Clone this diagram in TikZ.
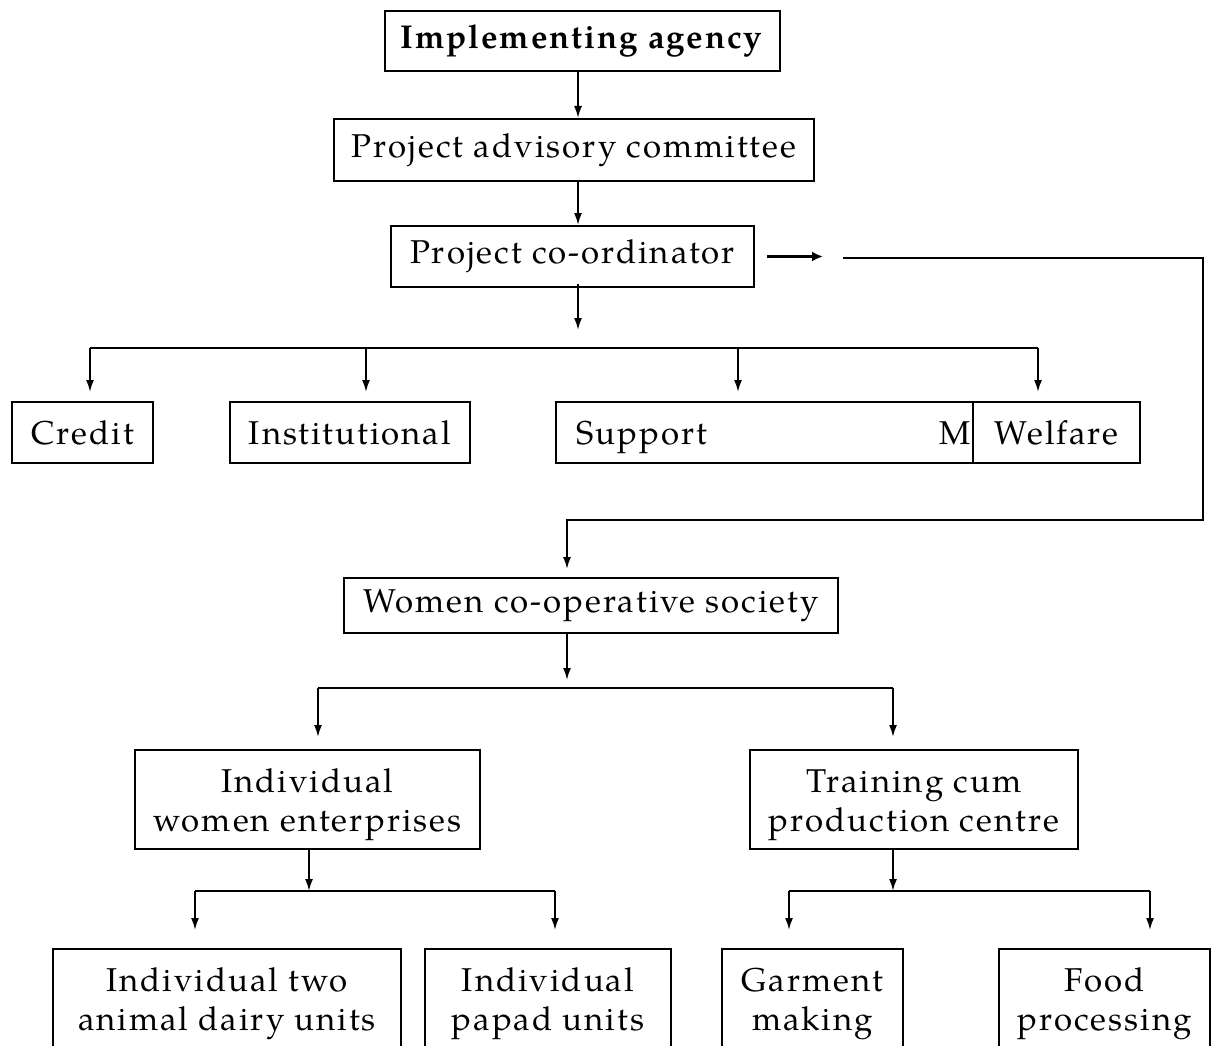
\documentclass[tikz,border=0pt]{standalone}
\usepackage{fontspec}
\setmainfont{texgyrepagella}[Extension=.otf, UprightFont=*-regular, BoldFont=*-bold, LetterSpace=6]
\usetikzlibrary{arrows.meta}

\tikzset{
  unitbox/.style={draw, line width=2pt, fill=white, inner sep=0pt, align=center,
    font=\fontsize{33}{39}\selectfont},
  boxtext/.style={inner sep=0pt, font=\fontsize{33}{39}\selectfont},
  link/.style={line width=1.8pt},
  arr/.style={link, -{Latex[length=12pt,width=8pt]}},
  fatarr/.style={line width=3pt, -{Latex[length=11pt,width=10pt]}},
}

\begin{document}
\begin{tikzpicture}[x=1pt,y=-1pt]
\useasboundingbox (0,0) rectangle (1213,1046);
% top of the chart
\node[unitbox, minimum width=395pt, minimum height=60pt] (agency) at (582.5,41) {\textbf{Implementing agency}};
\node[unitbox, minimum width=480pt, minimum height=62pt] (advisory) at (574,150) {Project advisory committee};
\node[unitbox, minimum width=363pt, minimum height=61pt] (coord) at (572.5,256.5) {Project co-ordinator};
\coordinate (spine) at (578,0);
\draw[arr] (agency.south -| spine) -- (advisory.north -| spine);
\draw[arr] (advisory.south -| spine) -- (coord.north -| spine);
\coordinate (coordend) at (578,330);
\draw[arr] ([yshift=4pt]coord.south -| spine) -- (coordend);

% first row of units
\node[unitbox, minimum width=141pt, minimum height=61pt] (credit) at (82.5,432.5) {Credit};
\node[unitbox, minimum width=240pt, minimum height=61pt] (instit) at (350,432.5) {Institutional};
\node[unitbox, minimum width=572pt, minimum height=61pt] (support) at (842,432.5) {};
\node[boxtext, anchor=base west] (supporttxt) at (576,444) {Support};
\node[boxtext, anchor=base east] (mtxt) at (971,444) {M};
\node[unitbox, minimum width=167pt, minimum height=61pt] (welfare) at (1056.5,432.5) {Welfare};
\coordinate (barL) at (90,348);
\coordinate (barR) at (1038,348);
\draw[link] (barL) -- (barR);
\draw[arr] (barL) -- ([yshift=9pt]credit.north -| barL);
\draw[arr] (366,348) -- ([yshift=9pt]instit.north -| 366,0);
\draw[arr] (738,348) -- ([yshift=9pt]support.north -| 738,0);
\draw[arr] (barR) -- ([yshift=9pt]welfare.north -| barR);

% loop round to the society
\draw[fatarr] ([xshift=12pt]coord.east) -- ++(56,0);
\coordinate (loopstart) at (843,258);
\coordinate (loopturn) at (1203,520);
\node[unitbox, minimum width=494pt, minimum height=55pt] (society) at (591,605.5) {Women co-operative society};
\draw[arr] (loopstart) -| (loopturn) -| ([yshift=8pt]society.north -| 567,0);

% second level
\node[unitbox, minimum width=345pt, minimum height=99pt, text height=73pt, text depth=10pt] (iwe) at (307.5,799.5) {Individual\\women enterprises};
\node[unitbox, minimum width=328pt, minimum height=99pt, text height=73pt, text depth=10pt] (training) at (914,799.5) {Training cum\\production centre};
\coordinate (socL) at (318,688);
\coordinate (socR) at (893,688);
\draw[arr] (society.south -| 567,0) -- (567,680);
\draw[link] (socL) -- (socR);
\draw[arr] (socL) -- ([yshift=12pt]iwe.north -| socL);
\draw[arr] (socR) -- ([yshift=12pt]training.north -| socR);

% bottom units
\tikzset{lowbox/.style={unitbox, minimum height=110pt, text height=62pt, text depth=10pt}}
\node[lowbox, minimum width=348pt] (dairy) at (227,1004) {Individual two\\animal dairy units};
\node[lowbox, minimum width=246pt] (papad) at (548,1004) {Individual\\papad units};
\node[lowbox, minimum width=181pt] (garment) at (812.5,1004) {Garment\\making};
\node[lowbox, minimum width=211pt] (food) at (1104.5,1004) {Food\\processing};
\coordinate (iweL) at (195,891);
\coordinate (iweR) at (555,891);
\coordinate (trL) at (789,891);
\coordinate (trR) at (1150,891);
\draw[arr] (iwe.south -| 309,0) -- (309,891);
\draw[link] (iweL) -- (iweR);
\draw[arr] (iweL) -- ([yshift=18pt]dairy.north -| iweL);
\draw[arr] (iweR) -- ([yshift=18pt]papad.north -| iweR);
\draw[arr] (training.south -| 893,0) -- (893,891);
\draw[link] (trL) -- (trR);
\draw[arr] (trL) -- ([yshift=18pt]garment.north -| trL);
\draw[arr] (trR) -- ([yshift=18pt]food.north -| trR);
\end{tikzpicture}
\end{document}
